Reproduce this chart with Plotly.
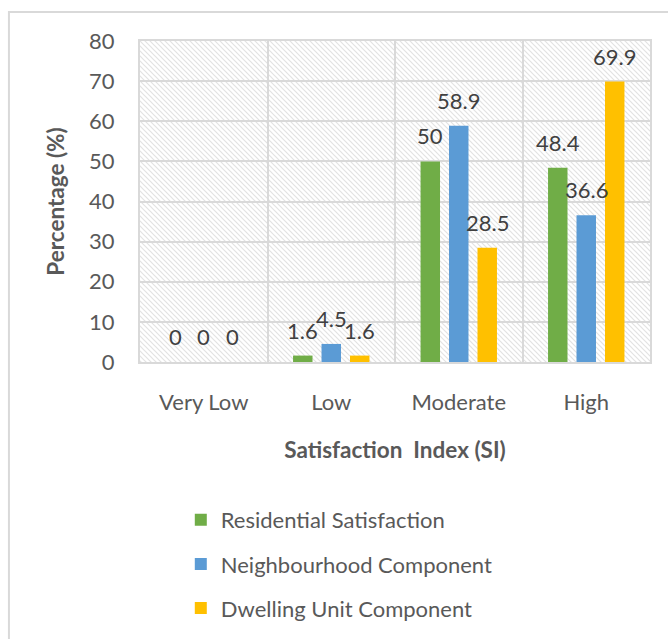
import base64
import plotly.graph_objects as go

# Satisfaction index categories and the share (%) of respondents in each
categories = ["Very Low", "Low", "Moderate", "High"]
residential = [0, 1.6, 50, 48.4]
neighbourhood = [0, 4.5, 58.9, 36.6]
dwelling = [0, 1.6, 28.5, 69.9]

series = [
    ("Residential Satisfaction", residential, "#70AD47"),
    ("Neighbourhood Component", neighbourhood, "#5B9BD5"),
    ("Dwelling Unit Component", dwelling, "#FFC000"),
]

FONT = "Lato"
TICK_COLOR = "#595959"
LABEL_COLOR = "#404040"
GRID = "#d9d9d9"
BARGAP = 0.33
GROUPGAP = 0.316

fig = go.Figure()
for name, values, color in series:
    fig.add_trace(go.Bar(
        x=categories, y=values, name=name, legendgroup=name,
        marker=dict(color=color, line=dict(width=0)),
    ))

# value labels sitting above each bar
slot = (1 - BARGAP) / len(series)
annotations = []
for i, (name, values, color) in enumerate(series):
    for c, v in enumerate(values):
        annotations.append(dict(
            x=c + (i - 1) * slot, y=v, xref="x", yref="y",
            text=f"{v:g}", showarrow=False, yanchor="bottom", yshift=10,
            font=dict(family=FONT, size=22, color=LABEL_COLOR),
        ))

# diagonal hatch texture for the plotting area
pw, ph = 510, 321
svg = (
    f'<svg xmlns="http://www.w3.org/2000/svg" width="{pw}" height="{ph}" '
    f'viewBox="0 0 {pw} {ph}" preserveAspectRatio="none">'
    '<defs><pattern id="h" width="5" height="5" patternUnits="userSpaceOnUse">'
    '<path d="M-1,4 l2,2 M0,0 l5,5 M4,-1 l2,2" stroke="#e2e2e2" stroke-width="1.2"/>'
    '</pattern></defs>'
    f'<rect width="{pw}" height="{ph}" fill="white"/>'
    f'<rect width="{pw}" height="{ph}" fill="url(#h)"/></svg>'
)
hatch_src = "data:image/svg+xml;base64," + base64.b64encode(svg.encode()).decode()

fig.update_layout(
    width=668, height=639,
    margin=dict(l=140, r=18, t=41, b=277, autoexpand=False),
    paper_bgcolor="white", plot_bgcolor="rgba(0,0,0,0)",
    barmode="group", bargap=BARGAP, bargroupgap=GROUPGAP,
    font=dict(family=FONT, color=TICK_COLOR),
    showlegend=True,
    legend=dict(
        x=0.080, y=-0.427, xanchor="left", yanchor="top",
        orientation="v", traceorder="grouped", tracegroupgap=12.5,
        font=dict(family=FONT, size=22, color=TICK_COLOR),
        bgcolor="rgba(0,0,0,0)",
    ),
    annotations=annotations,
    images=[dict(
        source=hatch_src, xref="paper", yref="paper", x=0, y=1,
        sizex=1, sizey=1, sizing="stretch", layer="below",
        xanchor="left", yanchor="top",
    )],
    shapes=[dict(
        type="rect", xref="paper", yref="paper",
        x0=-0.257, x1=1.2, y0=-1.2, y1=1.0903,
        line=dict(color=GRID, width=2), fillcolor="rgba(0,0,0,0)", layer="below",
    )],
)

fig.update_xaxes(
    type="category", tickson="boundaries", showgrid=True, gridcolor=GRID, gridwidth=2,
    showline=True, linecolor=GRID, linewidth=2, mirror=True, ticks="",
    ticklabelstandoff=20, automargin=False,
    tickfont=dict(family=FONT, size=22, color=TICK_COLOR),
    title=dict(text="<b>Satisfaction  Index (SI)</b>", standoff=28,
               font=dict(family=FONT, size=22.5, color=TICK_COLOR)),
)
fig.update_yaxes(
    range=[0, 80], dtick=10, showgrid=True, gridcolor=GRID, gridwidth=2,
    showline=True, linecolor=GRID, linewidth=2, mirror=True, ticks="",
    zeroline=False, ticklabelstandoff=19, automargin=False,
    tickfont=dict(family=FONT, size=22, color=TICK_COLOR),
    title=dict(text="<b>Percentage (%)</b>", standoff=18,
               font=dict(family=FONT, size=22.5, color=TICK_COLOR)),
)

fig.write_html("out.html")
